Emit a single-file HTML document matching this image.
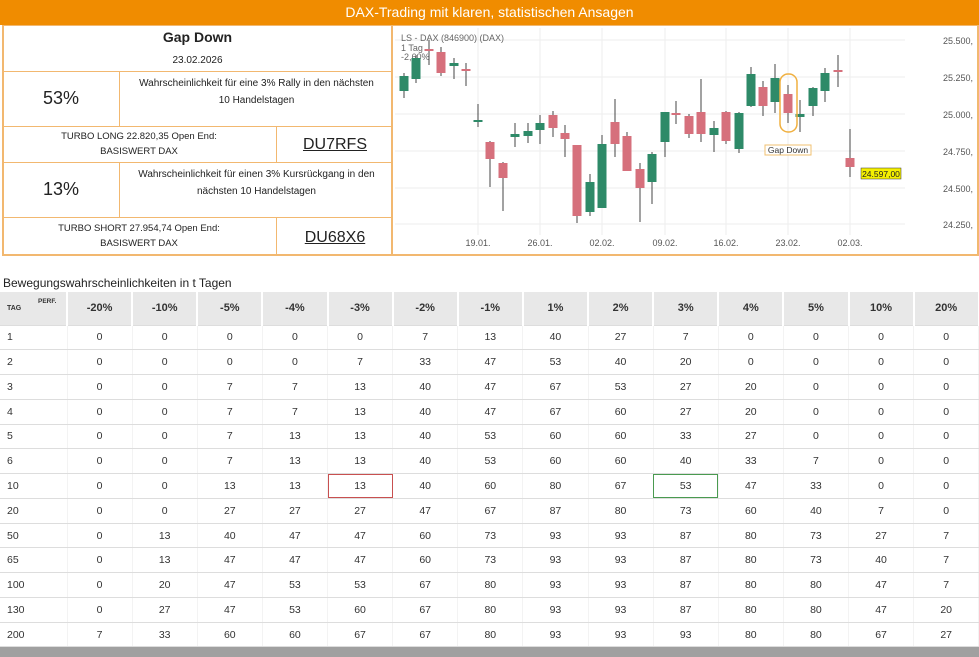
<!DOCTYPE html>
<html><head><meta charset="utf-8"><style>
*{margin:0;padding:0;box-sizing:border-box}
body{width:979px;height:657px;background:#fff;font-family:"Liberation Sans",sans-serif;color:#333;position:relative;overflow:hidden}
.hdr{position:absolute;left:0;top:0;width:979px;height:25px;background:#f08c00;color:#fff;font-size:14px;text-align:center;line-height:25px}
.a{position:absolute;border:1px solid #f2b870}
.t{position:absolute;text-align:center;color:#222}
table{position:absolute;left:0;top:292px;width:979px;border-collapse:collapse;table-layout:fixed;font-size:10.5px}
td{height:24.77px;text-align:center;border-bottom:1px solid #ddd;border-right:1px solid #f3f3f3}
tr.h td{height:33px;background:#e8e8e8;border-right:2px solid #fff;font-weight:bold;font-size:11px}
td:first-child{text-align:left;padding-left:7px}
</style></head><body>
<div class="hdr">DAX-Trading mit klaren, statistischen Ansagen</div>
<div class="a" style="left:2px;top:25px;width:391px;height:231px;border-width:1px 2px 2px 2px"></div>
<div class="a" style="left:2px;top:71px;width:391px;height:1px;border-width:1px 0 0 0"></div>
<div class="a" style="left:2px;top:126px;width:391px;height:1px;border-width:1px 0 0 0"></div>
<div class="a" style="left:2px;top:162px;width:391px;height:1px;border-width:1px 0 0 0"></div>
<div class="a" style="left:2px;top:217px;width:391px;height:1px;border-width:1px 0 0 0"></div>
<div class="a" style="left:119px;top:72px;width:1px;height:54px;border-width:0 0 0 1px"></div>
<div class="a" style="left:119px;top:163px;width:1px;height:54px;border-width:0 0 0 1px"></div>
<div class="a" style="left:276px;top:127px;width:1px;height:35px;border-width:0 0 0 1px"></div>
<div class="a" style="left:276px;top:218px;width:1px;height:37px;border-width:0 0 0 1px"></div>
<div class="a" style="left:392px;top:25px;width:587px;height:231px;border-width:1px 2px 2px 1px"></div>
<div class="t" style="left:2px;top:29px;width:391px;font-size:14px;font-weight:bold">Gap Down</div>
<div class="t" style="left:2px;top:55px;width:391px;font-size:10px">23.02.2026</div>
<div class="t" style="left:2px;top:88px;width:118px;font-size:18px">53%</div>
<div class="t" style="left:120px;top:75px;width:273px;font-size:10px;line-height:17px">Wahrscheinlichkeit für eine 3% Rally in den nächsten<br>10 Handelstagen</div>
<div class="t" style="left:2px;top:129px;width:274px;font-size:9.5px;line-height:15px">TURBO LONG 22.820,35 Open End:<br>BASISWERT DAX</div>
<div class="t" style="left:277px;top:136px;width:116px;font-size:16px;text-decoration:underline">DU7RFS</div>
<div class="t" style="left:2px;top:179px;width:118px;font-size:18px">13%</div>
<div class="t" style="left:120px;top:166px;width:273px;font-size:10px;line-height:17px">Wahrscheinlichkeit für einen 3% Kursrückgang in den<br>nächsten 10 Handelstagen</div>
<div class="t" style="left:2px;top:221px;width:274px;font-size:9.5px;line-height:15px">TURBO SHORT 27.954,74 Open End:<br>BASISWERT DAX</div>
<div class="t" style="left:277px;top:229px;width:116px;font-size:16px;text-decoration:underline">DU68X6</div>
<svg style="position:absolute;left:0;top:0" width="979" height="260">
<g stroke="#eee" stroke-width="1">
<line x1="395" x2="905" y1="40" y2="40"/><line x1="395" x2="905" y1="77" y2="77"/><line x1="395" x2="905" y1="114" y2="114"/><line x1="395" x2="905" y1="151" y2="151"/><line x1="395" x2="905" y1="188" y2="188"/><line x1="395" x2="905" y1="224" y2="224"/>
<line x1="478" x2="478" y1="28" y2="235"/><line x1="540" x2="540" y1="28" y2="235"/><line x1="602" x2="602" y1="28" y2="235"/><line x1="665" x2="665" y1="28" y2="235"/><line x1="726" x2="726" y1="28" y2="235"/><line x1="788" x2="788" y1="28" y2="235"/><line x1="850" x2="850" y1="28" y2="235"/>
</g>
<g font-size="9" fill="#555" text-anchor="end">
<text x="973" y="44">25.500,</text><text x="973" y="81">25.250,</text><text x="973" y="118">25.000,</text><text x="973" y="155">24.750,</text><text x="973" y="192">24.500,</text><text x="973" y="228">24.250,</text>
</g>
<g font-size="9" fill="#555" text-anchor="middle">
<text x="478" y="246">19.01.</text><text x="540" y="246">26.01.</text><text x="602" y="246">02.02.</text><text x="665" y="246">09.02.</text><text x="726" y="246">16.02.</text><text x="788" y="246">23.02.</text><text x="850" y="246">02.03.</text>
</g>
<g font-size="9" fill="#666"><text x="401" y="41">LS - DAX (846900) (DAX)</text><text x="401" y="51">1 Tag</text><text x="401" y="60">-2,60%</text></g>
<g id="c"></g>
<rect x="780" y="74" width="17" height="58" rx="8" fill="none" stroke="#f0b040" stroke-width="1.5"/>
<rect x="765" y="145" width="46" height="10" fill="#fff" stroke="#f0c070"/>
<text x="788" y="153" font-size="8.5" text-anchor="middle" fill="#333">Gap Down</text>
<rect x="861" y="168" width="40" height="11" fill="#f5f000" stroke="#333" stroke-width=".5"/>
<text x="881" y="177" font-size="8.5" text-anchor="middle" fill="#222">24.597,00</text>
</svg>
<script>
var d=[[404,'g',76,91,73,98],[416,'g',58,79,55,83],[429,'r',49,51,40,65],[441,'r',52,73,47,76],[454,'g',63,66,58,79],[466,'r',69,71,63,86],[478,'g',120,122,104,127],[490,'r',142,159,141,187],[503,'r',163,178,162,211],[515,'g',134,137,123,147],[528,'g',131,136,123,143],[540,'g',123,130,115,144],[553,'r',115,128,111,137],[565,'r',133,139,125,157],[577,'r',145,216,145,223],[590,'g',182,212,174,216],[602,'g',144,208,135,208],[615,'r',122,144,99,157],[627,'r',136,171,132,171],[640,'r',169,188,163,222],[652,'g',154,182,152,204],[665,'g',112,142,112,157],[676,'r',113,115,101,124],[689,'r',116,134,114,138],[701,'r',112,134,79,142],[714,'g',128,135,121,152],[726,'r',112,141,111,144],[739,'g',113,149,112,153],[751,'g',74,106,67,107],[763,'r',87,106,81,116],[775,'g',78,102,64,113],[788,'r',94,113,85,123],[800,'g',114,117,100,132],[813,'g',88,106,87,116],[825,'g',73,91,68,102],[838,'r',70,72,55,87],[850,'r',158,167,129,177]];
var s='';d.forEach(function(c){var col=c[1]=='g'?'#2e8a68':'#d6707c';s+='<line x1="'+c[0]+'" x2="'+c[0]+'" y1="'+c[4]+'" y2="'+c[5]+'" stroke="#444" stroke-width="1"/>';s+='<rect x="'+(c[0]-4.5)+'" y="'+c[2]+'" width="9" height="'+Math.max(2,c[3]-c[2])+'" fill="'+col+'"/>';});
document.getElementById('c').innerHTML=s;
</script>
<div style="position:absolute;left:3px;top:276px;font-size:12px;color:#222">Bewegungswahrscheinlichkeiten in t Tagen</div>
<table>
<colgroup><col style="width:67px"><col span="14" style="width:65.14px"></colgroup>
<tr class="h"><td style="font-size:7px;position:relative">TAG<span style="position:absolute;left:38px;top:6px;font-size:6.5px">PERF.</span></td><td>-20%</td><td>-10%</td><td>-5%</td><td>-4%</td><td>-3%</td><td>-2%</td><td>-1%</td><td>1%</td><td>2%</td><td>3%</td><td>4%</td><td>5%</td><td>10%</td><td>20%</td></tr>
<tr><td>1</td><td>0</td><td>0</td><td>0</td><td>0</td><td>0</td><td>7</td><td>13</td><td>40</td><td>27</td><td>7</td><td>0</td><td>0</td><td>0</td><td>0</td></tr>
<tr><td>2</td><td>0</td><td>0</td><td>0</td><td>0</td><td>7</td><td>33</td><td>47</td><td>53</td><td>40</td><td>20</td><td>0</td><td>0</td><td>0</td><td>0</td></tr>
<tr><td>3</td><td>0</td><td>0</td><td>7</td><td>7</td><td>13</td><td>40</td><td>47</td><td>67</td><td>53</td><td>27</td><td>20</td><td>0</td><td>0</td><td>0</td></tr>
<tr><td>4</td><td>0</td><td>0</td><td>7</td><td>7</td><td>13</td><td>40</td><td>47</td><td>67</td><td>60</td><td>27</td><td>20</td><td>0</td><td>0</td><td>0</td></tr>
<tr><td>5</td><td>0</td><td>0</td><td>7</td><td>13</td><td>13</td><td>40</td><td>53</td><td>60</td><td>60</td><td>33</td><td>27</td><td>0</td><td>0</td><td>0</td></tr>
<tr><td>6</td><td>0</td><td>0</td><td>7</td><td>13</td><td>13</td><td>40</td><td>53</td><td>60</td><td>60</td><td>40</td><td>33</td><td>7</td><td>0</td><td>0</td></tr>
<tr><td>10</td><td>0</td><td>0</td><td>13</td><td>13</td><td style="outline:1.5px solid #c85050;outline-offset:-1px">13</td><td>40</td><td>60</td><td>80</td><td>67</td><td style="outline:1.5px solid #4a9a50;outline-offset:-1px">53</td><td>47</td><td>33</td><td>0</td><td>0</td></tr>
<tr><td>20</td><td>0</td><td>0</td><td>27</td><td>27</td><td>27</td><td>47</td><td>67</td><td>87</td><td>80</td><td>73</td><td>60</td><td>40</td><td>7</td><td>0</td></tr>
<tr><td>50</td><td>0</td><td>13</td><td>40</td><td>47</td><td>47</td><td>60</td><td>73</td><td>93</td><td>93</td><td>87</td><td>80</td><td>73</td><td>27</td><td>7</td></tr>
<tr><td>65</td><td>0</td><td>13</td><td>47</td><td>47</td><td>47</td><td>60</td><td>73</td><td>93</td><td>93</td><td>87</td><td>80</td><td>73</td><td>40</td><td>7</td></tr>
<tr><td>100</td><td>0</td><td>20</td><td>47</td><td>53</td><td>53</td><td>67</td><td>80</td><td>93</td><td>93</td><td>87</td><td>80</td><td>80</td><td>47</td><td>7</td></tr>
<tr><td>130</td><td>0</td><td>27</td><td>47</td><td>53</td><td>60</td><td>67</td><td>80</td><td>93</td><td>93</td><td>87</td><td>80</td><td>80</td><td>47</td><td>20</td></tr>
<tr><td>200</td><td>7</td><td>33</td><td>60</td><td>60</td><td>67</td><td>67</td><td>80</td><td>93</td><td>93</td><td>93</td><td>80</td><td>80</td><td>67</td><td>27</td></tr>
</table>
<div style="position:absolute;left:0;top:647px;width:979px;height:10px;background:#a0a0a0"></div>
</body></html>
